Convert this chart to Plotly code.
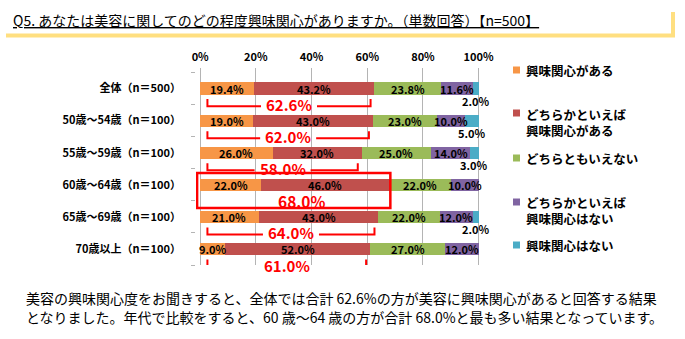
import plotly.graph_objects as go

# ---------------- data ----------------
categories = ["全体（n＝500）", "50歳～54歳（n＝100）", "55歳～59歳（n＝100）",
              "60歳～64歳（n＝100）", "65歳～69歳（n＝100）", "70歳以上（n＝100）"]
series_names = ["興味関心がある", "どちらかといえば<br>興味関心がある", "どちらともいえない",
                "どちらかといえば<br>興味関心はない", "興味関心はない"]
very_interested = [19.4, 19.0, 26.0, 22.0, 21.0, 9.0]
somewhat_interested = [43.2, 43.0, 32.0, 46.0, 43.0, 52.0]
neutral = [23.8, 23.0, 25.0, 22.0, 22.0, 27.0]
somewhat_not = [11.6, 10.0, 14.0, 10.0, 12.0, 12.0]
not_interested = [2.0, 5.0, 3.0, 0.0, 2.0, 0.0]
interested_total = [62.6, 62.0, 58.0, 68.0, 64.0, 61.0]
highlight_category = "60歳～64歳（n＝100）"
x_ticks = [0, 20, 40, 60, 80, 100]

title_text = "Q5. あなたは美容に関してのどの程度興味関心がありますか。（単数回答）【n=500】"
comment_lines = [
    "美容の興味関心度をお聞きすると、全体では合計 62.6%の方が美容に興味関心があると回答する結果",
    "となりました。年代で比較をすると、60 歳～64 歳の方が合計 68.0%と最も多い結果となっています。",
]

colors = ["#F79646", "#C0504D", "#9BBB59", "#8064A2", "#4BACC6"]
series = [very_interested, somewhat_interested, neutral, somewhat_not, not_interested]

JP = "Noto Sans CJK JP"
ypos = list(range(len(categories)))

# layout geometry
L, R, T, B = 196, 205, 68, 74
W, H = 685, 339
pw, ph = W - L - R, H - T - B
XMIN, XMAX = -1.5, 100.5
px_per_unit = pw / (XMAX - XMIN)


def px(xp):
    return (xp - L) / pw


def py(yp):
    return (H - B - yp) / ph


fig = go.Figure()
for i, (name, vals, col) in enumerate(zip(series_names, series, colors)):
    fig.add_trace(go.Bar(
        y=ypos, x=vals, name=name, orientation="h",
        marker=dict(color=col, line=dict(width=0)),
        width=0.38, hoverinfo="skip", showlegend=False,
    ))

annotations = []
shapes = []

# segment labels
for r in ypos:
    cum = 0.0
    for s, vals in enumerate(series):
        v = vals[r]
        if v > 0:
            center = cum + v / 2
            yy = r + 0.38 if s == len(series) - 1 else r
            annotations.append(dict(x=center, y=yy, xref="x", yref="y",
                                    text=f"{v:.1f}%", showarrow=False,
                                    font=dict(family=JP, size=11, color="black", weight=700)))
        cum += v

# brackets / highlight box for total interested
BR_FONT = 15
for r, cat in enumerate(categories):
    tot = interested_total[r]
    if cat == highlight_category:
        shapes.append(dict(type="rect", xref="x", yref="y", x0=-1.1, x1=tot + 0.3,
                           y0=r - 0.37, y1=r + 0.72, line=dict(color="#FF0000", width=2.5)))
        annotations.append(dict(x=(tot - 1.1) / 2 + 3, y=r + 0.51, xref="x", yref="y",
                                text=f"{tot:.1f}%", showarrow=False,
                                font=dict(family=JP, size=15.5, color="#FF0000", weight=700)))
    else:
        left, right = 2.6, tot - 1.4
        mid = (left + right) / 2
        half_gap = (BR_FONT * 3.2 / 2 + 4) / px_per_unit
        yl = r + 0.55
        shapes.append(dict(type="path", xref="x", yref="y",
                           path=f"M {left},{r + 0.33} L {left},{yl} L {mid - half_gap},{yl}",
                           line=dict(color="#FF0000", width=2)))
        shapes.append(dict(type="path", xref="x", yref="y",
                           path=f"M {mid + half_gap},{yl} L {right},{yl} L {right},{r + 0.33}",
                           line=dict(color="#FF0000", width=2)))
        annotations.append(dict(x=mid, y=r + 0.5, xref="x", yref="y",
                                text=f"{tot:.1f}%", showarrow=False,
                                font=dict(family=JP, size=BR_FONT, color="#FF0000", weight=700)))

# custom legend (squares + text)
legend_rows = [[70], [113, 131], [158], [202, 218], [245]]
for name, col, rows in zip(series_names, colors, legend_rows):
    shapes.append(dict(type="rect", xref="paper", yref="paper",
                       x0=px(513), x1=px(520), y0=py(rows[0] + 3.5), y1=py(rows[0] - 3.5),
                       fillcolor=col, line=dict(width=0)))
    annotations.append(dict(x=px(524), y=py(sum(rows) / len(rows)), xref="paper", yref="paper",
                            xanchor="left", yanchor="middle", align="left", text=name,
                            showarrow=False,
                            font=dict(family=JP, size=12.5, color="black", weight=700)))

# title and yellow frame
annotations.append(dict(x=px(11), y=py(20), xref="paper", yref="paper", xanchor="left",
                        yanchor="middle", text=title_text, showarrow=False,
                        font=dict(family=JP, size=14, color="black", lineposition="under")))
shapes.append(dict(type="line", xref="paper", yref="paper", x0=px(6), x1=px(675),
                   y0=py(35.5), y1=py(35.5), line=dict(color="#FFDF80", width=4)))
shapes.append(dict(type="line", xref="paper", yref="paper", x0=px(673), x1=px(673),
                   y0=py(12), y1=py(37), line=dict(color="#FFDF80", width=4)))

for k, line in enumerate(comment_lines):
    annotations.append(dict(x=px(24), y=py(298 + 19 * k), xref="paper", yref="paper",
                            xanchor="left", yanchor="middle", text=line, showarrow=False,
                            font=dict(family=JP, size=14, color="black")))

fig.update_layout(
    width=W, height=H,
    margin=dict(l=L, r=R, t=T, b=B, pad=0),
    barmode="stack",
    plot_bgcolor="white", paper_bgcolor="white",
    bargap=0,
    showlegend=False,
    xaxis=dict(range=[XMIN, XMAX], side="top", tickvals=x_ticks,
               ticktext=[f"{t}%" for t in x_ticks],
               showgrid=True, gridcolor="#B4B4B4", gridwidth=1,
               zeroline=True, zerolinecolor="#B4B4B4", zerolinewidth=1,
               showline=False, ticks="", ticklabelstandoff=4,
               tickfont=dict(family=JP, size=11, color="black", weight=700)),
    yaxis=dict(range=[5.5, -0.64], tickvals=ypos, ticktext=categories,
               showgrid=False, zeroline=False, showline=False, ticks="",
               ticklabelstandoff=14,
               minor=dict(tickmode="linear", tick0=0.5, dtick=1, ticks="outside",
                          ticklen=4, tickcolor="#B4B4B4", showgrid=False),
               tickfont=dict(family=JP, size=11, color="black", weight=700)),
    annotations=annotations,
    shapes=shapes,
)

fig.write_html("out.html")
